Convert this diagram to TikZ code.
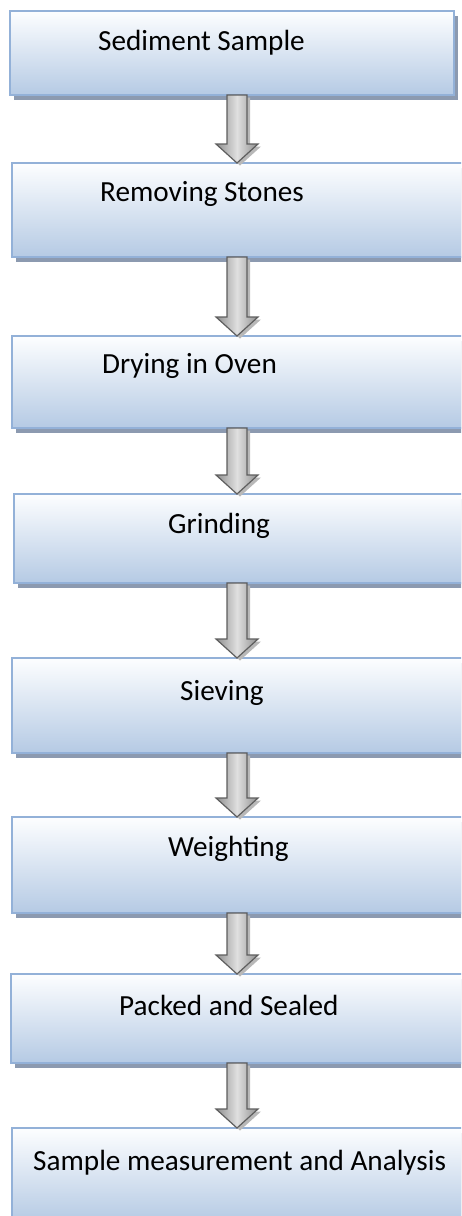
\documentclass[tikz,border=0pt]{standalone}
\usepackage{fontspec}
\setmainfont{Carlito}
\usetikzlibrary{shadows,calc}
\definecolor{boxtop}{HTML}{FDFEFF}
\definecolor{boxbot}{HTML}{B5CAE4}
\definecolor{boxline}{HTML}{93B1D8}
\definecolor{boxshadow}{HTML}{8C9AB0}
\definecolor{arrline}{HTML}{5E5E5E}
\definecolor{arrdark}{HTML}{8E8E8E}
\definecolor{arrlight}{HTML}{E0E0E0}
\definecolor{arrshadow}{HTML}{B8B8B8}
\newcommand\arrowpoly[3]{%
  \path[#1] ($(st)+(-10+#2,#3)$) -- ($(tp)+(-10+#2,-19+#3)$) -- ($(tp)+(-21+#2,-19+#3)$)
    -- ($(tp)+(#2,#3)$) -- ($(tp)+(21+#2,-19+#3)$) -- ($(tp)+(10+#2,-19+#3)$)
    -- ($(st)+(10+#2,#3)$) -- cycle;}
\newcommand\flowarrow[2]{%
  \coordinate (st) at (ax |- #1.south);
  \coordinate (tp) at (ax |- #2.north);
  \arrowpoly{arrowshadow}{3}{2.5}%
  \arrowpoly{arrowbody}{0}{0}}
\begin{document}
\begin{tikzpicture}[x=1pt,y=-1pt,
  stepbox/.style={draw=boxline, line width=1.4pt, top color=boxtop, bottom color=boxbot,
    inner sep=0pt, outer sep=0pt, anchor=north west,
    drop shadow={shadow xshift=4pt, shadow yshift=-5pt, fill=boxshadow, opacity=1}},
  steplabel/.style={anchor=base west, inner sep=0pt, font=\fontsize{29.2}{35}\selectfont, text=black},
  arrowbody/.style={draw=arrline, line width=1.2pt, left color=arrdark, right color=arrdark,
    middle color=arrlight, line join=miter},
  arrowshadow/.style={fill=arrshadow, draw=none}
]
\useasboundingbox (0,0) rectangle (461,1216);
\clip (0,0) rectangle (461,1216);
\coordinate (ax) at (237,0);

\node[stepbox, minimum width=444pt, minimum height=84pt] (b1) at (10,11) {};
\node[stepbox, minimum width=455pt, minimum height=94pt] (b2) at (12,163) {};
\node[stepbox, minimum width=455pt, minimum height=92pt] (b3) at (12,336) {};
\node[stepbox, minimum width=453pt, minimum height=89pt] (b4) at (14,494) {};
\node[stepbox, minimum width=455pt, minimum height=95pt] (b5) at (12,658) {};
\node[stepbox, minimum width=455pt, minimum height=96pt] (b6) at (12,817) {};
\node[stepbox, minimum width=456pt, minimum height=89pt] (b7) at (11,974) {};
\node[stepbox, minimum width=455pt, minimum height=94pt] (b8) at (12,1128) {};

\node[steplabel] (l1) at (98,50) {Sediment Sample};
\node[steplabel] (l2) at (100,201) {Removing Stones};
\node[steplabel] (l3) at (102,373) {Drying in Oven};
\node[steplabel] (l4) at (168,533) {Grinding};
\node[steplabel] (l5) at (180,700) {Sieving};
\node[steplabel] (l6) at (168,856) {Weighting};
\node[steplabel] (l7) at (119,1015) {Packed and Sealed};
\node[steplabel] (l8) at (33,1170) {Sample measurement and Analysis};

\flowarrow{b1}{b2}
\flowarrow{b2}{b3}
\flowarrow{b3}{b4}
\flowarrow{b4}{b5}
\flowarrow{b5}{b6}
\flowarrow{b6}{b7}
\flowarrow{b7}{b8}
\end{tikzpicture}
\end{document}
